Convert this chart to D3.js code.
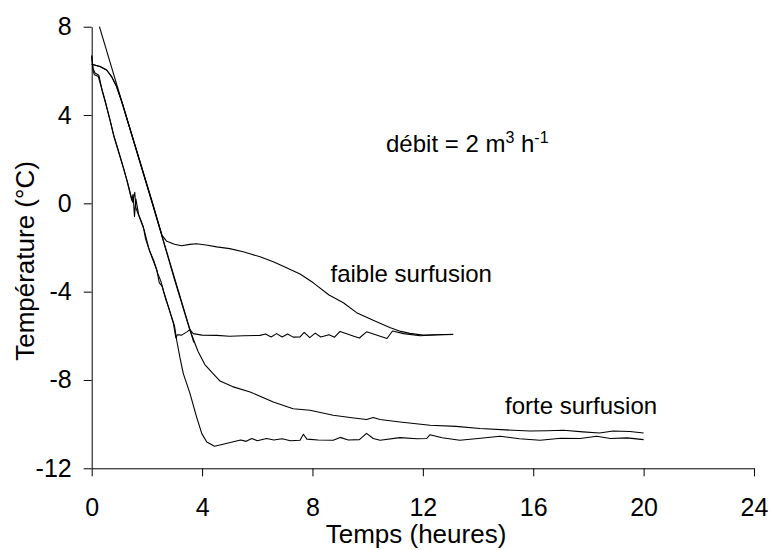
<!DOCTYPE html>
<html>
<head>
<meta charset="utf-8">
<script src="https://cdn.jsdelivr.net/npm/d3@7"></script>
<style>
  html, body { margin: 0; padding: 0; background: #fff; }
  svg { display: block; }
  text { font-family: Arial, "Liberation Sans", Helvetica, sans-serif; fill: #000; }
</style>
</head>
<body>
<svg id="chart" width="770" height="550"></svg>
<script>
// ---------- data (time in hours, temperature in °C) ----------
const xTicks = [0, 4, 8, 12, 16, 20, 24];
const yTicks = [-12, -8, -4, 0, 4, 8];

// straight reference line
const lineRef = [[0.28, 8], [3.7, -6.3]];

// faible surfusion – smooth curve
const faibleSmooth = [
  [0, 6.3], [0.3, 6.2], [0.54, 6.04], [0.72, 5.74], [0.9, 5.29], [1.09, 4.6],
  [2.17, 0.15], [2.55, -1.45], [2.72, -1.72], [3.0, -1.85], [3.26, -1.92],
  [3.55, -1.86], [3.8, -1.83], [4.2, -1.9], [4.53, -1.97], [5.0, -2.05],
  [5.49, -2.19], [6.1, -2.42], [6.58, -2.65], [7.0, -2.88], [7.55, -3.2],
  [8.03, -3.6], [8.6, -4.15], [9.12, -4.5], [9.6, -4.95], [10.2, -5.29],
  [10.8, -5.62], [11.2, -5.8], [11.53, -5.89], [12.0, -5.97], [13.1, -5.94]
];

// faible surfusion – jagged curve
const faibleJagged = [
  [0, 6.65], [0.05, 6.0], [0.1, 5.82], [0.24, 5.74], [0.36, 5.21], [0.48, 4.68],
  [0.66, 3.78], [0.78, 3.17], [0.96, 2.42], [1.14, 1.66], [1.27, 1.06],
  [1.45, 0.15], [1.5, 0.4], [1.55, -0.6], [1.6, 0.2], [1.7, -0.5],
  [1.87, -1.06], [1.95, -1.6], [2.05, -1.97], [2.2, -2.5], [2.36, -3.02],
  [2.45, -3.6], [2.55, -3.75], [2.59, -3.93], [2.7, -4.4], [2.78, -4.69],
  [2.96, -5.44], [3.05, -6.1], [3.1, -5.95], [3.26, -5.97], [3.45, -5.82],
  [3.56, -5.72], [3.68, -5.9], [4.0, -5.97], [4.53, -5.98], [5.0, -6.02],
  [5.5, -6.0], [6.1, -5.98], [6.3, -5.92], [6.5, -6.05], [6.7, -5.9],
  [6.9, -6.05], [7.1, -5.92], [7.3, -6.06], [7.55, -6.05], [7.7, -5.84],
  [7.9, -6.08], [8.1, -5.88], [8.3, -6.05], [8.6, -5.95], [8.8, -6.06],
  [9.0, -5.8], [9.5, -6.02], [9.7, -6.1], [9.96, -5.82], [10.7, -6.12],
  [10.9, -5.78], [11.3, -5.9], [11.9, -6.0], [12.5, -5.95], [13.1, -5.93]
];

// forte surfusion – smooth curve
const forteSmooth = [
  [0, 6.3], [0.3, 6.2], [0.54, 6.04], [0.72, 5.74], [0.9, 5.29], [1.09, 4.6],
  [2.17, 0.15], [3.0, -3.45], [3.56, -5.75], [3.85, -6.7], [4.1, -7.3],
  [4.39, -7.7], [4.65, -8.05], [5.1, -8.3], [5.74, -8.54], [6.58, -9.0],
  [7.3, -9.3], [7.91, -9.37], [8.75, -9.6], [9.5, -9.72], [9.96, -9.79],
  [10.2, -9.7], [10.45, -9.79], [11.17, -9.9], [12.26, -10.05], [13.2, -10.1],
  [14.07, -10.2], [15.0, -10.26], [15.88, -10.31], [16.5, -10.3], [17.1, -10.28],
  [17.8, -10.35], [18.4, -10.4], [18.9, -10.31], [19.5, -10.33], [20.0, -10.4]
];

// forte surfusion – jagged curve
const forteJagged = [
  [0, 6.7], [0.05, 6.1], [0.12, 5.9], [0.26, 5.8], [0.38, 5.1], [0.5, 4.55],
  [0.68, 3.7], [0.8, 3.05], [0.98, 2.3], [1.16, 1.55], [1.3, 0.95],
  [1.48, 0.05], [1.56, 0.5], [1.6, -0.2], [1.75, -0.7], [1.9, -1.2],
  [2.08, -2.1], [2.25, -2.6], [2.4, -3.2], [2.5, -3.5], [2.62, -4.05],
  [2.82, -4.85], [3.0, -5.55], [3.08, -6.2], [3.2, -7.0], [3.32, -7.71],
  [3.56, -8.61], [3.8, -9.67], [3.99, -10.43], [4.17, -10.81], [4.45, -11.0],
  [4.8, -10.9], [5.13, -10.8], [5.4, -10.72], [5.6, -10.78], [5.8, -10.65],
  [6.0, -10.75], [6.34, -10.65], [6.6, -10.72], [6.9, -10.66], [7.2, -10.75],
  [7.55, -10.73], [7.67, -10.46], [7.8, -10.68], [8.2, -10.72], [8.75, -10.73],
  [9.0, -10.6], [9.3, -10.72], [9.7, -10.7], [9.96, -10.42], [10.2, -10.65],
  [10.45, -10.73], [11.17, -10.61], [11.8, -10.66], [12.14, -10.65],
  [12.26, -10.48], [12.7, -10.62], [13.34, -10.73], [14.0, -10.65],
  [14.8, -10.55], [15.5, -10.66], [16.25, -10.73], [17.0, -10.64],
  [17.7, -10.65], [18.3, -10.55], [18.8, -10.65], [19.4, -10.62], [20.0, -10.7]
];

const series = [lineRef, faibleSmooth, faibleJagged, forteSmooth, forteJagged];

// ---------- layout ----------
const svg = d3.select("#chart");
const plotLeft = 91.7, plotRight = 754, plotTop = 26.7, plotBottom = 468.3;

const x = d3.scaleLinear().domain([0, 24]).range([plotLeft, plotRight]);
const y = d3.scaleLinear().domain([-12, 8]).range([plotBottom, plotTop]);

const fmt = d => String(d);

// y axis
const yAxis = svg.append("g")
  .attr("transform", `translate(${plotLeft},0)`)
  .call(d3.axisLeft(y).tickValues(yTicks).tickSize(8).tickSizeOuter(0).tickPadding(12).tickFormat(fmt));
yAxis.selectAll("text").attr("font-size", 25).attr("font-family", "Arial, 'Liberation Sans', sans-serif").attr("fill", "#000");
yAxis.selectAll("line, path").attr("stroke", "#000").attr("stroke-width", 1);

// x axis
const xAxis = svg.append("g")
  .attr("transform", `translate(0,${plotBottom})`)
  .call(d3.axisBottom(x).tickValues(xTicks).tickSize(8).tickSizeOuter(0).tickPadding(22).tickFormat(fmt));
xAxis.selectAll("text").attr("font-size", 25).attr("font-family", "Arial, 'Liberation Sans', sans-serif").attr("fill", "#000");
xAxis.selectAll("line, path").attr("stroke", "#000").attr("stroke-width", 1);

// curves
const line = d3.line().x(d => x(d[0])).y(d => y(d[1]));
svg.append("g").selectAll("path")
  .data(series)
  .join("path")
  .attr("d", line)
  .attr("fill", "none")
  .attr("stroke", "#000")
  .attr("stroke-width", 1.1)
  .attr("stroke-linejoin", "round");

// axis titles
svg.append("text")
  .attr("x", 416).attr("y", 543)
  .attr("text-anchor", "middle")
  .attr("font-size", 26)
  .text("Temps (heures)");

svg.append("text")
  .attr("transform", "translate(34,261) rotate(-90)")
  .attr("text-anchor", "middle")
  .attr("font-size", 26)
  .text("Température (°C)");

// annotations
const deb = svg.append("text")
  .attr("x", 386).attr("y", 152)
  .attr("font-size", 24);
deb.append("tspan").text("débit = 2 m");
deb.append("tspan").attr("font-size", 16).attr("dy", -9).text("3");
deb.append("tspan").attr("dy", 9).text(" h");
deb.append("tspan").attr("font-size", 16).attr("dy", -9).text("-1");

svg.append("text")
  .attr("x", 330.5).attr("y", 281.5)
  .attr("font-size", 24)
  .text("faible surfusion");

svg.append("text")
  .attr("x", 505).attr("y", 414)
  .attr("font-size", 24)
  .text("forte surfusion");
</script>
</body>
</html>
